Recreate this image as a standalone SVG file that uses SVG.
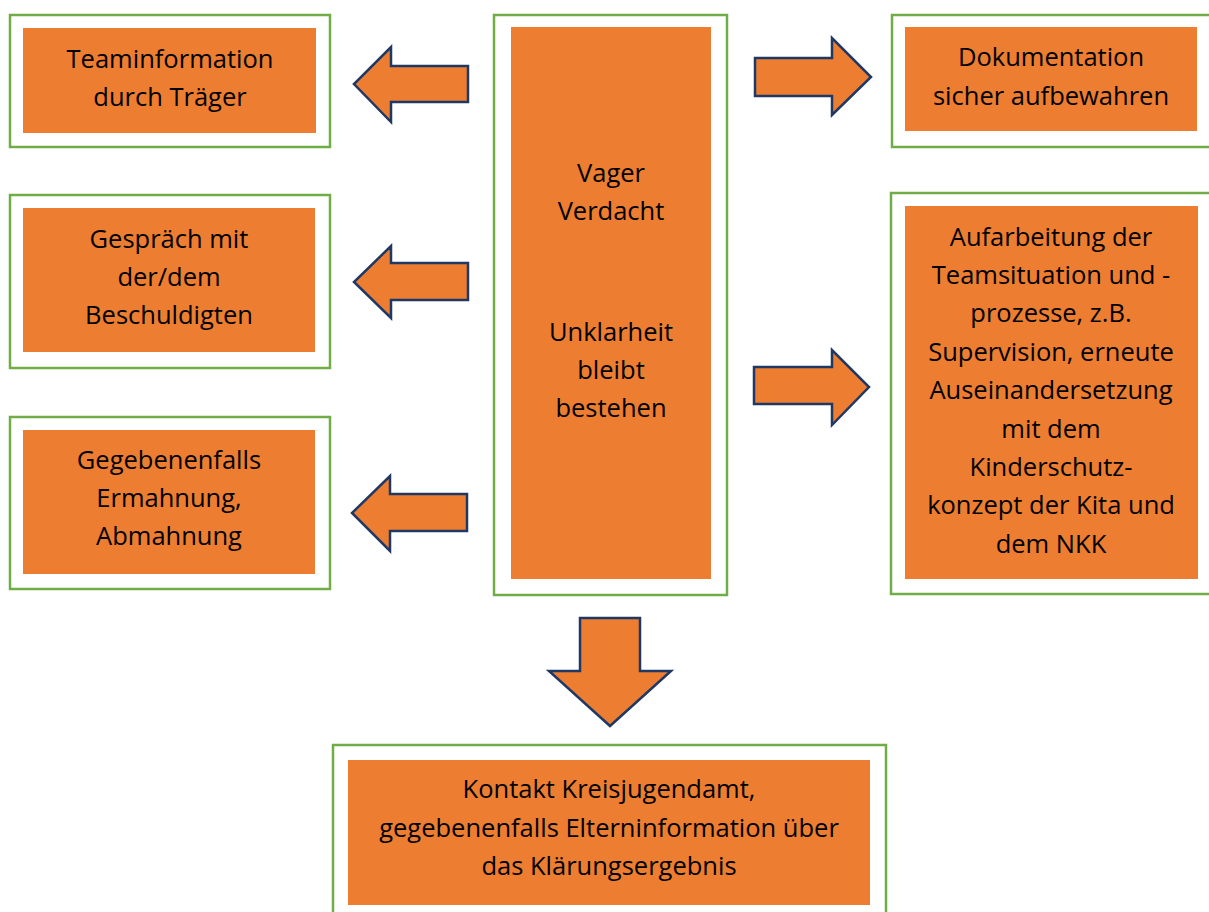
<svg xmlns="http://www.w3.org/2000/svg" width="1209" height="912" viewBox="0 0 1209 912">
<style>
.outer{fill:#fff;stroke:#70AD47;stroke-width:2.5}
.inner{fill:#ED7D31}
.arr{fill:#ED7D31;stroke:#1F3864;stroke-width:2.5;stroke-linejoin:miter}
text{font-family:"Open Sans","Noto Sans","Liberation Sans",sans-serif;font-size:25.5px;fill:#000;text-anchor:middle;dominant-baseline:central}
</style>
<rect width="1209" height="912" fill="#fff"/>
<g id="n-team">
<rect class="outer" x="10" y="15" width="320" height="132"/>
<rect class="inner" x="23" y="28" width="293" height="105"/>
<text x="170" y="58">Teaminformation</text>
<text x="170" y="96">durch Träger</text>
</g>
<g id="n-gespraech">
<rect class="outer" x="10" y="195" width="320" height="173"/>
<rect class="inner" x="23" y="208" width="292" height="144"/>
<text x="169" y="238">Gespräch mit</text>
<text x="169" y="276">der/dem</text>
<text x="169" y="314">Beschuldigten</text>
</g>
<g id="n-ermahnung">
<rect class="outer" x="10" y="417" width="320" height="172"/>
<rect class="inner" x="23" y="430" width="292" height="144"/>
<text x="169" y="459">Gegebenenfalls</text>
<text x="169" y="497">Ermahnung,</text>
<text x="169" y="535">Abmahnung</text>
</g>
<g id="n-center">
<rect class="outer" x="494" y="15" width="233" height="580"/>
<rect class="inner" x="511" y="27" width="200" height="552"/>
<text x="611" y="172">Vager</text>
<text x="611" y="210">Verdacht</text>
<text x="611" y="331">Unklarheit</text>
<text x="611" y="369">bleibt</text>
<text x="611" y="407">bestehen</text>
</g>
<g id="n-doku">
<rect class="outer" x="892" y="15" width="320" height="132"/>
<rect class="inner" x="905" y="27" width="292" height="104"/>
<text x="1051" y="56">Dokumentation</text>
<text x="1051" y="95">sicher aufbewahren</text>
</g>
<g id="n-aufarbeitung">
<rect class="outer" x="891" y="193" width="321" height="401"/>
<rect class="inner" x="905" y="206" width="293" height="373"/>
<text x="1051" y="236">Aufarbeitung der</text>
<text x="1051" y="274">Teamsituation und -</text>
<text x="1051" y="312">prozesse, z.B.</text>
<text x="1051" y="351">Supervision, erneute</text>
<text x="1051" y="389">Auseinandersetzung</text>
<text x="1051" y="428">mit dem</text>
<text x="1051" y="466">Kinderschutz-</text>
<text x="1051" y="504">konzept der Kita und</text>
<text x="1051" y="543">dem NKK</text>
</g>
<g id="n-kontakt">
<rect class="outer" x="333" y="745" width="553" height="180"/>
<rect class="inner" x="348" y="760" width="522" height="145"/>
<text x="609" y="788">Kontakt Kreisjugendamt,</text>
<text x="609" y="827">gegebenenfalls Elterninformation über</text>
<text x="609" y="865">das Klärungsergebnis</text>
</g>
<g id="connectors">
<polygon class="arr" points="468,66 391,66 391,47 354,84 391,122 391,102 468,102"/>
<polygon class="arr" points="468,263 391,263 391,246 354,282 391,318 391,300 468,300"/>
<polygon class="arr" points="467,494 390,494 390,476 352,513 390,551 390,531 467,531"/>
<polygon class="arr" points="755,58 832,58 832,38 871,77 832,115 832,96 755,96"/>
<polygon class="arr" points="754,367 832,367 832,350 869,387 832,425 832,404 754,404"/>
<polygon class="arr" points="580,618 640,618 640,671 671,671 610,726 549,671 580,671"/>
</g>
</svg>
